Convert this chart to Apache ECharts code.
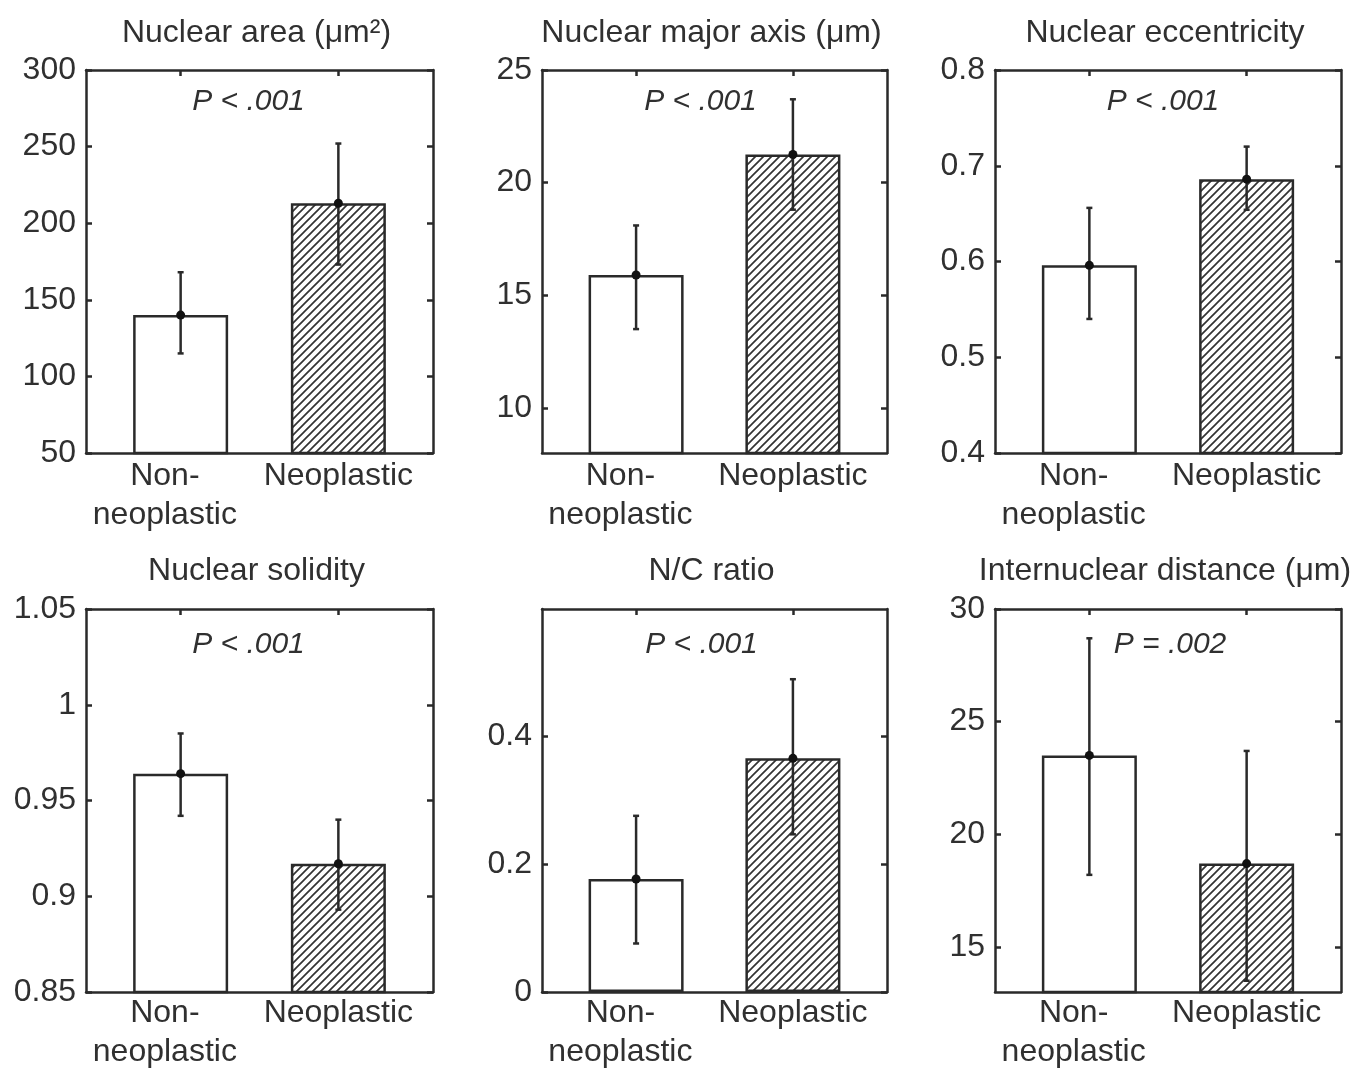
<!DOCTYPE html>
<html>
<head>
<meta charset="utf-8">
<script src="https://cdn.jsdelivr.net/npm/echarts@6/dist/echarts.min.js"></script>
<style>
html,body{margin:0;padding:0;background:#fff;}
#chart{width:1368px;height:1072px;}
</style>
</head>
<body>
<div id="chart"></div>
<script>
// ---------- data ----------
const categories = ['Non-\nneoplastic', 'Neoplastic'];
const categoryX = [1, 2];
const panelTitles = ['Nuclear area (μm²)', 'Nuclear major axis (μm)', 'Nuclear eccentricity',
                     'Nuclear solidity', 'N/C ratio', 'Internuclear distance (μm)'];
const pLabels = ['P < .001', 'P < .001', 'P < .001', 'P < .001', 'P < .001', 'P = .002'];
const meanNon    = [140, 15.9, 0.596, 0.964, 0.177, 23.5];
const meanNeo    = [213, 21.25, 0.686, 0.917, 0.366, 18.7];
const errLowNon  = [115, 13.5, 0.540, 0.942, 0.076, 18.2];
const errHighNon = [168, 18.1, 0.656, 0.985, 0.276, 28.7];
const errLowNeo  = [173, 18.8, 0.654, 0.893, 0.247, 13.5];
const errHighNeo = [252, 23.7, 0.720, 0.940, 0.490, 23.7];
const yMin = [50, 8, 0.4, 0.85, 0, 13];
const yMax = [300, 25, 0.8, 1.05, 0.6, 30];
const yTicks = [
  [50, 100, 150, 200, 250, 300],
  [10, 15, 20, 25],
  [0.4, 0.5, 0.6, 0.7, 0.8],
  [0.85, 0.9, 0.95, 1, 1.05],
  [0, 0.2, 0.4],
  [15, 20, 25, 30]
];

// ---------- layout / style ----------
const colLeft = [86, 542, 995];
const colWidth = [347, 345, 346];
const rowTop = [70, 609];
const boxH = 383;
const titleY = [33, 571];
const pY = [102, 645];
const pOffset = [-11, -14, -5, -11, -13, 2];
const labelShift = [-0.1, 0];   // label nudge (axis units), first label sits a bit left in the original
const labelX = categoryX.map((x, k) => x + labelShift[k]);
const FONT = '"Liberation Sans", Arial, sans-serif';
const TXT = '#303030';
const LINE = '#2a2a2a';

function makeHatch() {
  const s = 8;
  const c = document.createElement('canvas');
  c.width = s; c.height = s;
  const g = c.getContext('2d');
  g.fillStyle = '#fff'; g.fillRect(0, 0, s, s);
  g.strokeStyle = '#333'; g.lineWidth = 1.7;
  g.beginPath();
  g.moveTo(-1, s + 1); g.lineTo(s + 1, -1);
  g.moveTo(-1, 1); g.lineTo(1, -1);
  g.moveTo(s - 1, s + 1); g.lineTo(s + 1, s - 1);
  g.stroke();
  return c;
}
const hatch = { image: makeHatch(), repeat: 'repeat' };

const grids = [], xAxes = [], yAxes = [], series = [], graphics = [];
const lineStyle = { color: LINE, width: 2.5 };

function xLabel(v) {
  let best = -1, d = 1e9;
  labelX.forEach((x, k) => { if (Math.abs(x - v) < d) { d = Math.abs(x - v); best = k; } });
  return d < 0.01 ? categories[best] : '';
}

for (let i = 0; i < 6; i++) {
  const r = Math.floor(i / 3), c = i % 3;
  const left = colLeft[c], top = rowTop[r], w = colWidth[c];
  grids.push({ left: left, top: top, width: w, height: boxH, containLabel: false });

  xAxes.push({
    gridIndex: i, type: 'value', min: 0.4, max: 2.6, position: 'bottom',
    axisLine: { show: true, onZero: false, lineStyle: lineStyle },
    axisTick: { show: true, inside: true, length: 6, customValues: categoryX, lineStyle: lineStyle },
    splitLine: { show: false },
    axisLabel: {
      customValues: labelX, margin: r === 0 ? 4 : 2, hideOverlap: false,
      showMinLabel: true, showMaxLabel: true,
      color: TXT, fontFamily: FONT, fontSize: 32, lineHeight: 39,
      formatter: xLabel
    }
  });
  xAxes.push({
    gridIndex: i, type: 'value', min: 0.4, max: 2.6, position: 'top',
    axisLine: { show: true, onZero: false, lineStyle: lineStyle },
    axisTick: { show: true, inside: true, length: 6, customValues: categoryX, lineStyle: lineStyle },
    axisLabel: { show: false }, splitLine: { show: false }
  });
  yAxes.push({
    gridIndex: i, type: 'value', min: yMin[i], max: yMax[i], position: 'left',
    axisLine: { show: true, onZero: false, lineStyle: lineStyle },
    axisTick: { show: true, inside: true, length: 6, customValues: yTicks[i], lineStyle: lineStyle },
    splitLine: { show: false },
    axisLabel: { customValues: yTicks[i], margin: 10, color: TXT, fontFamily: FONT, fontSize: 32,
                 showMinLabel: true, showMaxLabel: true }
  });
  yAxes.push({
    gridIndex: i, type: 'value', min: yMin[i], max: yMax[i], position: 'right',
    axisLine: { show: true, onZero: false, lineStyle: lineStyle },
    axisTick: { show: true, inside: true, length: 6, customValues: yTicks[i], lineStyle: lineStyle },
    axisLabel: { show: false }, splitLine: { show: false }
  });

  series.push({
    type: 'bar', xAxisIndex: 2 * i, yAxisIndex: 2 * i, barWidth: 95, clip: true,
    itemStyle: { borderColor: LINE, borderWidth: 2.5 },
    data: [
      { value: [categoryX[0], meanNon[i]], itemStyle: { color: '#fff' } },
      { value: [categoryX[1], meanNeo[i]], itemStyle: { color: hatch } }
    ],
    silent: true, animation: false
  });
  series.push({
    type: 'custom', xAxisIndex: 2 * i, yAxisIndex: 2 * i, z: 5,
    encode: { x: 0, y: [1, 2, 3] },
    data: [
      [categoryX[0], errLowNon[i], errHighNon[i], meanNon[i]],
      [categoryX[1], errLowNeo[i], errHighNeo[i], meanNeo[i]]
    ],
    renderItem: function (params, api) {
      const x = api.value(0);
      const lo = api.coord([x, api.value(1)]);
      const hi = api.coord([x, api.value(2)]);
      const m = api.coord([x, api.value(3)]);
      const st = { stroke: '#2a2a2a', lineWidth: 2.5 };
      return {
        type: 'group', children: [
          { type: 'line', shape: { x1: lo[0], y1: lo[1], x2: hi[0], y2: hi[1] }, style: st },
          { type: 'line', shape: { x1: lo[0] - 3, y1: lo[1], x2: lo[0] + 3, y2: lo[1] }, style: st },
          { type: 'line', shape: { x1: hi[0] - 3, y1: hi[1], x2: hi[0] + 3, y2: hi[1] }, style: st },
          { type: 'circle', shape: { cx: m[0], cy: m[1], r: 4.5 }, style: { fill: '#111' } }
        ]
      };
    },
    animation: false
  });

  const cx = left + w / 2;
  graphics.push({
    type: 'text', x: cx - 3, y: titleY[r], silent: true,
    style: { text: panelTitles[i], fill: TXT, fontFamily: FONT, fontSize: 32,
             align: 'center', verticalAlign: 'middle' }
  });
  graphics.push({
    type: 'text', x: cx + pOffset[i], y: pY[r], silent: true,
    style: { text: pLabels[i], fill: TXT, fontFamily: FONT, fontSize: 30, fontStyle: 'italic',
             align: 'center', verticalAlign: 'middle' }
  });
}

const chart = echarts.init(document.getElementById('chart'), null, { renderer: 'canvas' });
chart.setOption({
  backgroundColor: '#fff',
  animation: false,
  grid: grids,
  xAxis: xAxes,
  yAxis: yAxes,
  series: series,
  graphic: graphics
});
</script>
</body>
</html>
